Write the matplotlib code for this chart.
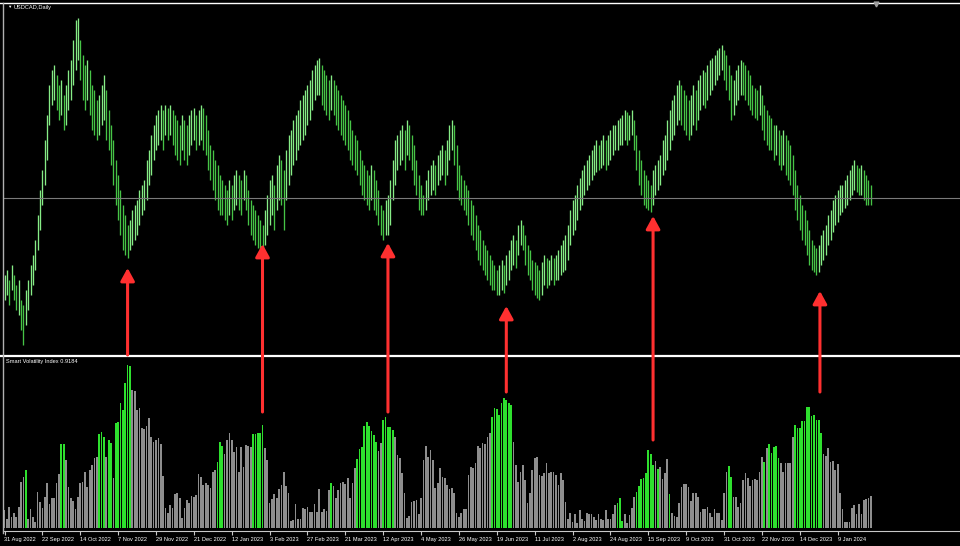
import numpy as np
import matplotlib
matplotlib.use('Agg')
import matplotlib.pyplot as plt
from matplotlib.patches import ConnectionPatch
from matplotlib.lines import Line2D

symbol_title = "USDCAD,Daily"
indicator_title = "Smart Volatility Index 0.9184"
date_labels = ["31 Aug 2022", "22 Sep 2022", "14 Oct 2022", "7 Nov 2022", "29 Nov 2022",
               "21 Dec 2022", "12 Jan 2023", "3 Feb 2023", "27 Feb 2023", "21 Mar 2023",
               "12 Apr 2023", "4 May 2023", "26 May 2023", "19 Jun 2023", "11 Jul 2023",
               "2 Aug 2023", "24 Aug 2023", "15 Sep 2023", "9 Oct 2023", "31 Oct 2023",
               "22 Nov 2023", "14 Dec 2023", "9 Jan 2024"]
label_step = 16  # bars between date labels

# daily highs / lows (price x 10000)
high_pips = [
 13225,13240,13210,13255,13225,13195,13210,13150,13135,13180,13210,13255,13285,13330,13405,13480,13540,13630,13705,13795,
 13840,13855,13825,13795,13810,13765,13795,13840,13870,13930,13990,13996,13930,13885,13855,13870,13840,13795,13780,13750,
 13765,13795,13825,13780,13720,13675,13630,13570,13525,13480,13435,13405,13375,13390,13420,13435,13450,13480,13495,13510,
 13570,13600,13645,13675,13705,13720,13735,13720,13735,13726,13735,13720,13705,13690,13675,13705,13690,13675,13705,13720,
 13726,13705,13720,13735,13726,13705,13660,13615,13600,13570,13555,13525,13510,13495,13480,13510,13495,13525,13540,13525,
 13510,13540,13525,13480,13450,13435,13420,13405,13390,13375,13420,13465,13510,13525,13495,13555,13585,13570,13540,13600,
 13645,13660,13690,13705,13720,13750,13765,13780,13795,13810,13840,13855,13870,13876,13855,13840,13825,13810,13825,13810,
 13795,13780,13765,13750,13735,13720,13690,13660,13645,13630,13600,13570,13555,13540,13525,13555,13540,13510,13480,13435,
 13420,13450,13465,13510,13570,13630,13645,13660,13675,13660,13690,13675,13645,13615,13570,13525,13495,13465,13510,13540,
 13555,13570,13555,13585,13600,13615,13600,13630,13675,13690,13675,13615,13555,13525,13510,13495,13480,13450,13435,13405,
 13375,13360,13330,13315,13300,13285,13270,13255,13240,13255,13270,13255,13285,13300,13330,13345,13330,13375,13390,13375,
 13345,13315,13300,13270,13264,13255,13240,13264,13285,13276,13270,13285,13276,13285,13300,13315,13330,13345,13375,13420,
 13450,13465,13495,13516,13540,13555,13570,13585,13600,13615,13630,13615,13630,13645,13630,13645,13660,13675,13675,13690,
 13696,13705,13720,13714,13705,13720,13690,13645,13600,13570,13540,13525,13510,13495,13540,13555,13570,13585,13630,13645,
 13690,13720,13750,13765,13795,13810,13795,13780,13765,13750,13765,13795,13780,13810,13825,13840,13834,13855,13870,13876,
 13885,13900,13906,13915,13900,13885,13855,13825,13810,13840,13855,13870,13864,13855,13840,13825,13795,13786,13780,13795,
 13765,13735,13720,13705,13696,13675,13675,13660,13645,13660,13645,13630,13615,13585,13540,13495,13465,13435,13420,13390,
 13360,13330,13315,13306,13315,13345,13360,13375,13405,13420,13450,13465,13480,13495,13495,13510,13525,13540,13555,13570,
 13555,13546,13555,13540,13525,13510,13495,13480]
low_pips = [
 13150,13165,13135,13180,13150,13120,13105,13060,13015,13075,13120,13165,13195,13240,13300,13360,13435,13495,13570,13675,
 13735,13750,13720,13690,13705,13660,13675,13720,13750,13795,13840,13870,13810,13750,13720,13750,13705,13660,13645,13630,
 13645,13675,13690,13630,13600,13555,13495,13435,13390,13345,13300,13285,13276,13300,13315,13330,13345,13375,13405,13420,
 13450,13495,13525,13570,13600,13615,13630,13600,13645,13630,13645,13615,13585,13570,13555,13600,13570,13555,13585,13615,
 13630,13600,13615,13630,13600,13585,13540,13510,13480,13450,13420,13405,13405,13390,13375,13405,13390,13420,13435,13420,
 13405,13450,13420,13375,13345,13330,13315,13306,13300,13306,13315,13345,13375,13405,13360,13420,13450,13435,13360,13450,
 13495,13525,13555,13570,13600,13615,13630,13645,13675,13690,13720,13750,13765,13765,13735,13720,13705,13690,13720,13705,
 13675,13660,13645,13630,13615,13600,13570,13555,13540,13525,13495,13465,13450,13435,13420,13450,13420,13405,13375,13345,
 13330,13345,13345,13375,13450,13495,13540,13555,13570,13540,13585,13570,13540,13495,13465,13420,13405,13405,13420,13450,
 13465,13480,13465,13495,13510,13525,13495,13525,13570,13600,13555,13480,13450,13435,13420,13405,13375,13345,13330,13300,
 13270,13255,13240,13225,13210,13195,13180,13180,13165,13165,13180,13171,13195,13210,13240,13255,13246,13285,13315,13300,
 13255,13225,13210,13180,13165,13156,13150,13165,13195,13186,13195,13210,13195,13210,13210,13225,13234,13240,13270,13315,
 13345,13360,13390,13420,13435,13465,13480,13495,13510,13525,13534,13540,13546,13555,13540,13555,13570,13585,13600,13600,
 13615,13615,13630,13615,13630,13645,13600,13540,13495,13465,13435,13426,13420,13414,13435,13465,13480,13495,13525,13540,
 13570,13600,13630,13645,13675,13690,13675,13660,13645,13630,13645,13675,13660,13690,13720,13735,13726,13750,13765,13780,
 13795,13810,13825,13840,13810,13780,13750,13690,13705,13735,13750,13765,13765,13750,13735,13720,13705,13696,13690,13705,
 13660,13630,13615,13600,13600,13570,13585,13555,13540,13555,13525,13510,13495,13465,13420,13390,13360,13330,13315,13285,
 13255,13240,13234,13225,13234,13255,13270,13285,13315,13330,13354,13375,13384,13405,13414,13426,13435,13450,13465,13480,
 13474,13465,13465,13450,13435,13435,13435,13435]
current_price = 1.3456

# Smart Volatility Index histogram (arbitrary units)
hist_values = [
 18,9,21,11,15,11,21,46,51,58, 9,19,11,6,36,26,20,31,45,24, 30,30,45,54,84,84,68,41,30,27,
 19,31,45,46,56,41,58,63,70,71, 94,96,91,71,88,85,50,
 105,106,125,118,145,163,162, 138,137,118,120,100,99,102,110,91,86, 88,90,84,52,20,15,23,20,34,35,
 30,10,20,28,25,32,31,33,54,51, 43,45,43,40,56,58,66,86,82,74, 88,95,88,76,81,56,81,61,83,82,
 81,94,94,95,95,103,
 80,68,25,29,34,30,39,43,56,42, 35,7,8,24,9,9,20,19,21,16, 16,24,16,39,16,19,17,38,45,42,
 30,38,45,46,44,50,30,45,60,69, 79,81,102,106,102,97,93,86,77,85, 108,111,101,
 101,98,91,73,70,55,35,10,12,26, 27,28,14,30,68,82,71,78,68,40, 45,60,51,50,43,39,40,35,15,11,
 15,19,19,53,61,60,65,82,80,85, 84,91,95,111,120,119,113,125,130,128, 125,123,86,63,46,
 56,63,48,25,35,58,70,71,53,52, 55,65,55,56,56,53,43,55,48,26, 9,15,6,14,5,18,9,7,15,14, 14,11,
 8,14,9,8,18,9,9,14,23,25, 30,7,14,5,13,20,31,36,42,49, 50,55,78,74,63,67,59,61,49,55,
 69,34,15,12,11,25,41,44,44,41, 27,35,35,31,16,19,19,21,15,11, 19,15,15,8,35,56,62,51,31,31,
 21,25,48,55,50,42,48,49,48,56, 71,66,80,84,75,81,82,70,65,56, 65,65,65,91,103,100,100,107,107,121,
 121,112,113,108,108,95,74,72,80,66, 67,58,64,35,19,6,6,6,20,23, 14,24,14,28,29,30,32]
green_ranges = [(9, 9), (24, 25), (40, 42), (44, 45), (47, 53), (90, 92), (105, 109), (138, 138),
                (149, 157), (160, 164), (206, 214), (259, 261), (267, 274), (276, 276), (281, 281),
                (306, 307), (321, 321), (323, 327), (334, 345)]

# arrows: bar index, tail (indicator units), head (price)
arrow_idx = [52, 109, 162, 212, 274, 344.5]
arrow_tail = [173, 116, 116, 136, 88, 136]
arrow_head = [1.3246, 1.3318, 1.3321, 1.3132, 1.3402, 1.3177]

# ---------------------------------------------------------------
W, H = 960, 546
plt.rcParams['font.family'] = ['Liberation Sans', 'DejaVu Sans']
fig = plt.figure(figsize=(W / 100, H / 100), dpi=100, facecolor='black')


def frac(x0, y0, x1, y1):
    return [x0 / W, 1 - y1 / H, (x1 - x0) / W, (y1 - y0) / H]


ax1 = fig.add_axes(frac(3, 4, 960, 354))
ax2 = fig.add_axes(frac(3, 357, 960, 531))
px_per_bar = 2.367
xmin = -1.5 / px_per_bar
xmax = xmin + 957 / px_per_bar
for ax in (ax1, ax2):
    ax.set_facecolor('black')
    ax.set_xlim(xmin, xmax)
    for s in ax.spines.values():
        s.set_visible(False)

n = len(hist_values)
x = np.arange(n)
high = np.array(high_pips[:n]) / 1e4
low = np.array(low_pips[:n]) / 1e4
mid = (high + low) / 2
up = np.r_[True, mid[1:] >= mid[:-1]]
pcols = np.where(up, '#86ec86', '#46c446')
ax1.vlines(x[:len(high)], low, high, colors=pcols[:len(high)], linewidth=0.95)
ax1.axhline(current_price, color='#7a7a7a', linewidth=0.8)
ax1.set_ylim(1.2988, 1.4038)
ax1.set_xticks([])
ax1.set_yticks([])

hist = np.array(hist_values, dtype=float)
green = np.zeros(n, dtype=bool)
for a, b in green_ranges:
    green[a:b + 1] = True
hcols = np.where(green, '#2ee02e', '#8e8e8e')
ax2.bar(x, hist, width=0.72, color=hcols, linewidth=0)
ax2.set_ylim(-3, 171)
ax2.set_yticks([])
ticks = np.arange(len(date_labels)) * label_step
ax2.set_xticks(ticks)
ax2.set_xticklabels(date_labels, ha='left', fontsize=4.1, color='white')
ax2.tick_params(axis='x', length=3, width=0.8, color='#c8c8c8', pad=1.5, direction='out')
ax2.spines['bottom'].set_visible(True)
ax2.spines['bottom'].set_color('#c8c8c8')
ax2.spines['bottom'].set_linewidth(0.8)

# frame lines
fig.add_artist(Line2D([0, 1], [1 - 3 / H, 1 - 3 / H], transform=fig.transFigure, color='white', lw=1.0))
fig.add_artist(Line2D([0, 1], [1 - 355.5 / H, 1 - 355.5 / H], transform=fig.transFigure, color='white', lw=1.6))
fig.add_artist(Line2D([3 / W, 3 / W], [1 - 533 / H, 1 - 3 / H], transform=fig.transFigure, color='#b0b0b0', lw=1.0))
fig.add_artist(Line2D([876 / W], [1 - 4 / H], transform=fig.transFigure, marker='v', markersize=3.5,
                      color='#a0a0a0', linestyle='none'))

fig.text(7 / W, 1 - 7 / H, '\u25BC', color='white', fontsize=3.2, va='center', ha='left')
fig.text(14 / W, 1 - 7 / H, symbol_title, color='white', fontsize=4.1, va='center', ha='left')
fig.text(6 / W, 1 - 361 / H, indicator_title, color='white', fontsize=4.1, va='center', ha='left')

for xi, t, h in zip(arrow_idx, arrow_tail, arrow_head):
    cp = ConnectionPatch(xyA=(xi, t), coordsA=ax2.transData, xyB=(xi, h), coordsB=ax1.transData,
                         arrowstyle='-|>,head_length=0.55,head_width=0.3', mutation_scale=14,
                         color='#ff3030', linewidth=2.2, shrinkA=0, shrinkB=0, zorder=10)
    fig.add_artist(cp)

fig.savefig('out.png', dpi=100, facecolor='black')
